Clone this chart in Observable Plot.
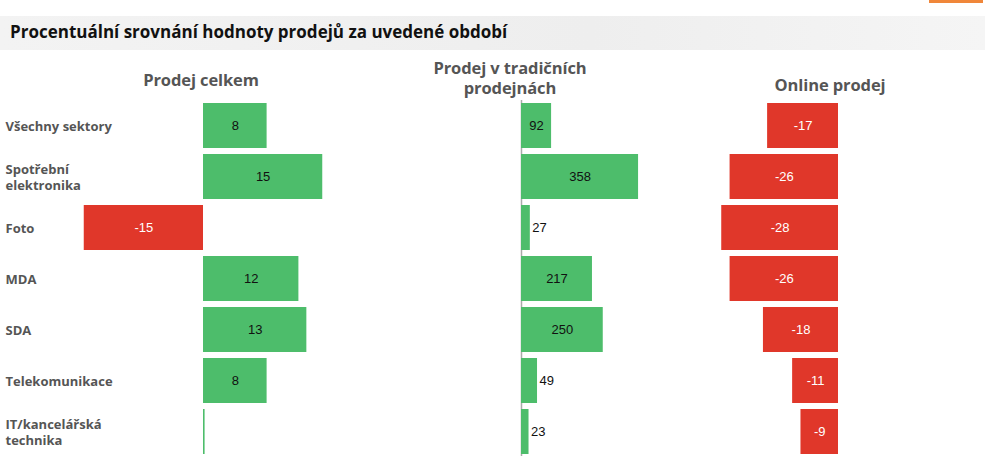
<!DOCTYPE html>
<html><head><meta charset="utf-8">
<script src="https://cdn.jsdelivr.net/npm/d3@7"></script>
<script src="https://cdn.jsdelivr.net/npm/@observablehq/plot@0.6"></script>
<style>
html,body{margin:0;padding:0;background:#fff;overflow:hidden;width:1001px;height:456px;}
#wrap{position:relative;width:1001px;height:456px;}
#wrap svg{position:absolute;left:0;top:0;overflow:visible;background:transparent;}
.band{position:absolute;left:0;top:16px;width:985px;height:34px;background:linear-gradient(to right,#f3f3f3,#eeeeee 60%,#f5f5f5);}
.orange{position:absolute;left:929px;top:0;width:54px;height:3px;background:#f0873a;}
.title{position:absolute;left:10px;top:20px;font:bold 17px "Open Sans",sans-serif;color:#111;letter-spacing:0px;}
.hdr{position:absolute;font:bold 16.5px "Open Sans",sans-serif;color:#555;text-align:center;line-height:20px;letter-spacing:-0.1px;}
</style></head>
<body><div id="wrap">
<div class="band"></div><div class="orange"></div>
<div class="title">Procentuální srovnání hodnoty prodejů za uvedené období</div>
</div>
<script>
const categories = ["Všechny sektory","Spotřební\nelektronika","Foto","MDA","SDA","Telekomunikace","IT/kancelářská\ntechnika"];
const celkem = [8, 15, -15, 12, 13, 8, 0.2];
const celkemLabels = ["8","15","-15","12","13","8",""];
const tradicni = [92, 358, 27, 217, 250, 49, 23];
const online = [-17, -26, -28, -26, -18, -11, -9];
const headers = ["Prodej celkem","Prodej v tradičních\nprodejnách","Online prodej"];

const GREEN = "#4dbd6b", RED = "#e0372a";
const wrap = document.getElementById("wrap");

function panel(values, labels, opts) {
  const data = values.map((v, i) => ({cat: categories[i], v, label: labels[i]}));
  const inside = data.filter(d => !opts.outside(d));
  const outside = data.filter(d => opts.outside(d));
  const font = {fontSize: 13, fontFamily: "Liberation Sans, Arial, sans-serif"};
  const marks = [];
  if (opts.zeroRule) marks.push(Plot.ruleX([0], {stroke: "#aaa", strokeWidth: 1.5}));
  marks.push(Plot.barX(data, {y: "cat", x: "v", fill: d => d.v < 0 ? RED : GREEN}));
  marks.push(Plot.text(inside, {
    y: "cat", x: d => d.v / 2, text: "label", textAnchor: "middle",
    fill: d => d.v < 0 ? "#fff" : "#111", ...font
  }));
  marks.push(Plot.text(outside, {
    y: "cat", x: "v", text: "label", textAnchor: "start", dx: 2,
    fill: "#111", ...font
  }));
  if (opts.catLabels) marks.push(Plot.text(categories, {
    y: d => d, frameAnchor: "left", textAnchor: "start", dx: opts.catDx,
    text: d => d, fill: "#555", fontWeight: "bold", fontSize: 13, lineHeight: 1.25,
    fontFamily: "Open Sans, sans-serif"
  }));
  const p = Plot.plot({
    width: 1001, height: 457,
    marginTop: 100, marginBottom: 0, marginLeft: opts.ml, marginRight: opts.mr,
    x: {domain: opts.domain, axis: null},
    y: {domain: categories, axis: null, paddingInner: 0.12, paddingOuter: 0.06},
    style: {background: "transparent", overflow: "visible"},
    marks
  });
  wrap.appendChild(p);
}

// Panel 1: zero at x=203, ~7.95 px per unit
panel(celkem, celkemLabels, {domain: [-15, 15], ml: 203 - 15 * 7.95, mr: 1001 - (203 + 15 * 7.95), outside: d => false, catLabels: true, catDx: -(203 - 15 * 7.95 - 5)});
// Panel 2: zero at x=521, ~0.327 px per unit
panel(tradicni, tradicni.map(String), {domain: [0, 400], ml: 521, mr: 1001 - (521 + 400 * 0.327), outside: d => d.v < 60, zeroRule: true});
// Panel 3: zero at x=838, ~4.17 px per unit
panel(online, online.map(String), {domain: [-30, 0], ml: 838 - 30 * 4.17, mr: 1001 - 838, outside: d => false});

const hdrPos = [[201, 70], [510, 58], [830, 75]];
headers.forEach((h, i) => {
  const d = document.createElement("div");
  d.className = "hdr";
  d.style.left = (hdrPos[i][0] - 100) + "px";
  d.style.width = "200px";
  d.style.top = hdrPos[i][1] + "px";
  d.innerHTML = h.replace("\n", "<br>");
  wrap.appendChild(d);
});
</script></body></html>
